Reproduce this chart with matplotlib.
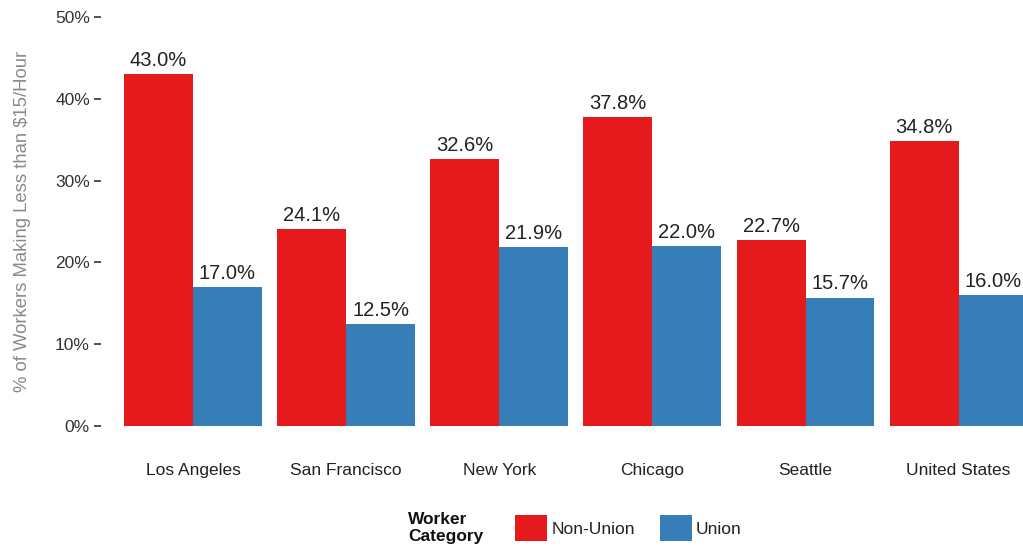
import numpy as np
import matplotlib
matplotlib.use("Agg")
import matplotlib.pyplot as plt
from matplotlib.patches import Patch

plt.rcParams['font.family'] = ['Liberation Sans', 'DejaVu Sans']

cities = ['Los Angeles', 'San Francisco', 'New York', 'Chicago', 'Seattle', 'United States']
non_union = [43.0, 24.1, 32.6, 37.8, 22.7, 34.8]
union = [17.0, 12.5, 21.9, 22.0, 15.7, 16.0]
yticks = [0, 10, 20, 30, 40, 50]

RED = '#E41A1C'
BLUE = '#377EB8'

fig = plt.figure(figsize=(10.23, 5.5), dpi=100)
ax = fig.add_axes([0.0988, 0.2255, 0.9012, 0.7436])

x = np.arange(len(cities))
w = 0.45
b1 = ax.bar(x - w / 2, non_union, width=w, color=RED)
b2 = ax.bar(x + w / 2, union, width=w, color=BLUE)

# value labels on top of each bar
for bars, vals in ((b1, non_union), (b2, union)):
    for rect, v in zip(bars, vals):
        ax.annotate('%.1f%%' % v, (rect.get_x() + rect.get_width() / 2, v),
                    xytext=(0, 3), textcoords='offset points',
                    ha='center', va='bottom', fontsize=14.5, color='#222222',
                    annotation_clip=False)

ax.set_xlim(-0.6, 5.42)
ax.set_ylim(0, 50)
ax.set_yticks(yticks)
ax.set_yticklabels(['%d%%' % t for t in yticks])
ax.set_xticks(x)
ax.set_xticklabels(cities)
for s in ax.spines.values():
    s.set_visible(False)
ax.tick_params(axis='y', length=5, width=1.2, color='#333333',
               labelsize=12.5, labelcolor='#333333', pad=3)
ax.tick_params(axis='x', length=0, labelsize=12.5, labelcolor='#222222', pad=27)
ax.set_ylabel('% of Workers Making Less than $15/Hour', fontsize=13.3,
              color='#8a8a8a', labelpad=17)

fig.text(0.399, 0.04, 'Worker\nCategory', fontsize=12.5, fontweight='bold',
         color='#111111', ha='left', va='center', linespacing=1.15)
handles = [Patch(facecolor=RED), Patch(facecolor=BLUE)]
fig.legend(handles, ['Non-Union', 'Union'], ncol=2, frameon=False,
           loc='center left', bbox_to_anchor=(0.497, 0.04),
           fontsize=12.5, handlelength=1.85, handleheight=1.85,
           handletextpad=0.25, columnspacing=1.4, borderaxespad=0,
           labelcolor='#222222')

fig.savefig('out.png', dpi=100)
